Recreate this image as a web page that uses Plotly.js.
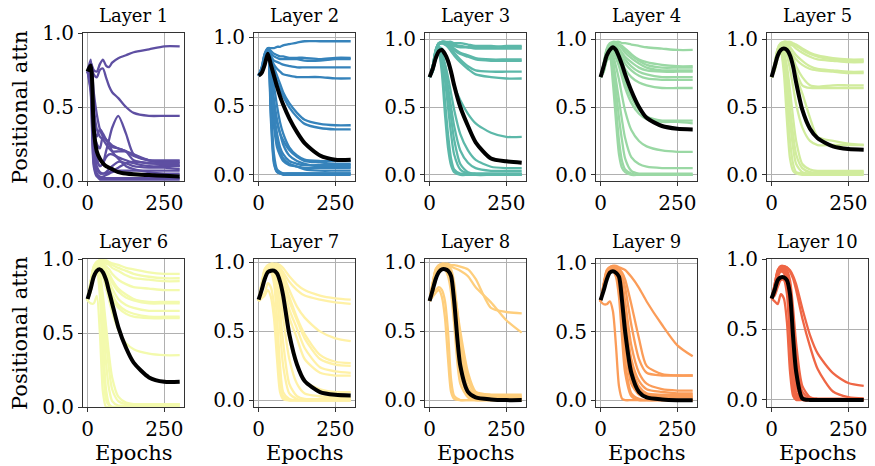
<!DOCTYPE html>
<html>
<head>
<meta charset="utf-8">
<script src="https://cdn.plot.ly/plotly-3.0.1.min.js"></script>
<style>html,body{margin:0;padding:0;background:#fff;}#chart{width:875px;height:466px;}</style>
</head>
<body>
<div id="chart"></div>
<script>
// Epochs at which head curves are sampled
const epochs = [0,10,20,30,40,50,60,70,80,100,125,150,200,250,300];
const layerNames = ['Layer 1','Layer 2','Layer 3','Layer 4','Layer 5','Layer 6','Layer 7','Layer 8','Layer 9','Layer 10'];
const layerColors = ['#5e4fa2','#3683bb','#5cb8a9','#9ad8a4','#d1ec9d','#f3faad','#fff1a6','#fece7c','#fb9c58','#ef6645'];
const xTickVals = [0,250];
const yTickVals = [0,0.5,1];

const layer1Heads = [
 [0.74,0.80,0.75,0.74,0.79,0.82,0.78,0.77,0.80,0.83,0.85,0.87,0.89,0.91,0.91],
 [0.74,0.80,0.72,0.70,0.75,0.76,0.70,0.64,0.60,0.56,0.50,0.46,0.44,0.44,0.44],
 [0.74,0.78,0.40,0.15,0.10,0.12,0.20,0.28,0.36,0.44,0.32,0.18,0.14,0.13,0.13],
 [0.74,0.76,0.50,0.35,0.30,0.28,0.25,0.22,0.20,0.20,0.20,0.18,0.14,0.12,0.11],
 [0.74,0.82,0.60,0.45,0.35,0.30,0.28,0.26,0.24,0.22,0.20,0.17,0.14,0.14,0.14],
 [0.74,0.70,0.30,0.15,0.10,0.12,0.16,0.18,0.18,0.16,0.14,0.12,0.10,0.10,0.10],
 [0.74,0.75,0.25,0.10,0.06,0.05,0.06,0.08,0.10,0.13,0.12,0.10,0.09,0.09,0.08],
 [0.74,0.65,0.15,0.05,0.03,0.03,0.04,0.05,0.06,0.07,0.07,0.07,0.07,0.07,0.07],
 [0.74,0.60,0.10,0.03,0.02,0.02,0.02,0.02,0.02,0.02,0.02,0.02,0.02,0.02,0.02],
 [0.74,0.68,0.20,0.08,0.05,0.05,0.05,0.06,0.07,0.09,0.12,0.13,0.12,0.11,0.10],
 [0.74,0.70,0.35,0.25,0.22,0.30,0.28,0.25,0.20,0.15,0.10,0.08,0.06,0.05,0.05],
 [0.74,0.72,0.40,0.30,0.35,0.32,0.28,0.25,0.23,0.22,0.20,0.14,0.12,0.12,0.12],
 [0.74,0.62,0.12,0.04,0.01,0.01,0.01,0.01,0.01,0.01,0.01,0.01,0.01,0.01,0.01]
];
const layer2Heads = [
 [0.72,0.78,0.88,0.92,0.92,0.92,0.93,0.93,0.94,0.95,0.96,0.97,0.97,0.97,0.97],
 [0.72,0.78,0.88,0.92,0.90,0.88,0.87,0.86,0.86,0.85,0.85,0.85,0.84,0.85,0.85],
 [0.72,0.77,0.87,0.91,0.88,0.86,0.85,0.84,0.84,0.84,0.84,0.83,0.83,0.84,0.84],
 [0.72,0.77,0.86,0.90,0.86,0.83,0.82,0.81,0.80,0.79,0.78,0.78,0.78,0.78,0.78],
 [0.72,0.76,0.86,0.90,0.85,0.80,0.77,0.75,0.73,0.72,0.71,0.71,0.71,0.70,0.70],
 [0.72,0.76,0.85,0.90,0.85,0.78,0.72,0.66,0.60,0.52,0.45,0.40,0.37,0.36,0.36],
 [0.72,0.76,0.85,0.89,0.83,0.75,0.68,0.62,0.57,0.49,0.42,0.37,0.34,0.33,0.33],
 [0.72,0.75,0.84,0.88,0.70,0.50,0.38,0.30,0.25,0.18,0.13,0.10,0.09,0.08,0.08],
 [0.72,0.75,0.84,0.88,0.60,0.35,0.20,0.14,0.10,0.07,0.06,0.05,0.05,0.05,0.05],
 [0.72,0.74,0.83,0.87,0.50,0.15,0.04,0.02,0.01,0.01,0.01,0.01,0.01,0.01,0.01],
 [0.72,0.74,0.83,0.87,0.45,0.10,0.02,0.01,0.01,0.01,0.01,0.01,0.01,0.01,0.01],
 [0.72,0.75,0.84,0.88,0.75,0.55,0.40,0.30,0.22,0.14,0.10,0.08,0.06,0.06,0.06],
 [0.72,0.74,0.84,0.87,0.65,0.40,0.25,0.17,0.12,0.08,0.06,0.04,0.03,0.03,0.03],
 [0.72,0.74,0.83,0.86,0.70,0.45,0.30,0.20,0.15,0.10,0.08,0.07,0.07,0.07,0.07],
 [0.72,0.75,0.85,0.89,0.80,0.65,0.50,0.38,0.30,0.20,0.14,0.11,0.10,0.10,0.10],
 [0.72,0.74,0.82,0.86,0.40,0.08,0.02,0.01,0.00,0.00,0.00,0.00,0.00,0.00,0.00]
];
const layer3Heads = [
 [0.72,0.80,0.92,0.97,0.98,0.98,0.98,0.98,0.97,0.97,0.96,0.95,0.95,0.94,0.94],
 [0.72,0.80,0.92,0.97,0.98,0.98,0.97,0.97,0.96,0.95,0.94,0.93,0.93,0.93,0.93],
 [0.72,0.80,0.92,0.97,0.98,0.98,0.97,0.96,0.95,0.94,0.94,0.94,0.94,0.95,0.95],
 [0.72,0.80,0.91,0.96,0.97,0.97,0.96,0.95,0.93,0.90,0.88,0.86,0.85,0.85,0.85],
 [0.72,0.80,0.91,0.96,0.97,0.97,0.96,0.94,0.92,0.89,0.87,0.85,0.84,0.84,0.84],
 [0.72,0.79,0.90,0.96,0.97,0.96,0.95,0.93,0.90,0.85,0.80,0.77,0.76,0.76,0.76],
 [0.72,0.79,0.90,0.96,0.97,0.96,0.94,0.91,0.88,0.83,0.78,0.74,0.72,0.71,0.71],
 [0.72,0.78,0.88,0.94,0.93,0.88,0.82,0.74,0.66,0.55,0.45,0.38,0.31,0.28,0.28],
 [0.72,0.77,0.87,0.93,0.90,0.82,0.72,0.60,0.48,0.30,0.18,0.11,0.06,0.05,0.05],
 [0.72,0.77,0.86,0.92,0.88,0.78,0.65,0.50,0.36,0.18,0.09,0.05,0.03,0.03,0.03],
 [0.72,0.76,0.86,0.90,0.80,0.55,0.30,0.12,0.04,0.01,0.01,0.01,0.01,0.01,0.01],
 [0.72,0.76,0.85,0.90,0.75,0.45,0.20,0.07,0.02,0.00,0.00,0.00,0.00,0.00,0.00],
 [0.72,0.76,0.86,0.91,0.85,0.70,0.50,0.30,0.15,0.04,0.01,0.00,0.00,0.00,0.00],
 [0.72,0.77,0.87,0.92,0.87,0.75,0.60,0.42,0.26,0.08,0.02,0.01,0.01,0.01,0.01]
];
const layer4Heads = [
 [0.72,0.82,0.93,0.97,0.98,0.98,0.98,0.97,0.97,0.96,0.95,0.94,0.93,0.92,0.92],
 [0.72,0.82,0.92,0.96,0.97,0.97,0.96,0.95,0.93,0.89,0.85,0.83,0.81,0.80,0.80],
 [0.72,0.81,0.92,0.96,0.97,0.97,0.96,0.94,0.92,0.88,0.84,0.81,0.79,0.79,0.79],
 [0.72,0.81,0.91,0.96,0.97,0.96,0.95,0.93,0.90,0.86,0.82,0.79,0.77,0.77,0.77],
 [0.72,0.81,0.91,0.95,0.96,0.95,0.93,0.90,0.87,0.83,0.79,0.77,0.76,0.76,0.76],
 [0.72,0.80,0.90,0.95,0.96,0.95,0.92,0.89,0.85,0.80,0.76,0.74,0.72,0.72,0.72],
 [0.72,0.80,0.90,0.95,0.95,0.93,0.90,0.86,0.82,0.77,0.73,0.71,0.70,0.70,0.70],
 [0.72,0.80,0.90,0.94,0.94,0.92,0.88,0.83,0.78,0.72,0.68,0.66,0.64,0.64,0.64],
 [0.72,0.79,0.88,0.93,0.92,0.88,0.82,0.75,0.68,0.57,0.48,0.43,0.40,0.40,0.40],
 [0.72,0.79,0.88,0.92,0.91,0.86,0.80,0.72,0.64,0.53,0.45,0.41,0.39,0.39,0.38],
 [0.72,0.78,0.87,0.91,0.88,0.80,0.70,0.58,0.47,0.33,0.25,0.21,0.18,0.17,0.17],
 [0.72,0.77,0.86,0.90,0.84,0.70,0.55,0.40,0.27,0.13,0.08,0.06,0.05,0.05,0.05],
 [0.72,0.76,0.85,0.88,0.75,0.50,0.25,0.10,0.04,0.01,0.00,0.00,0.00,0.00,0.00],
 [0.72,0.76,0.84,0.86,0.68,0.40,0.15,0.05,0.02,0.00,0.00,0.00,0.00,0.00,0.00],
 [0.72,0.77,0.86,0.90,0.82,0.62,0.42,0.25,0.12,0.03,0.01,0.01,0.01,0.01,0.01]
];
const layer5Heads = [
 [0.72,0.82,0.93,0.97,0.98,0.98,0.98,0.97,0.96,0.93,0.90,0.88,0.86,0.85,0.85],
 [0.72,0.82,0.93,0.97,0.98,0.98,0.97,0.96,0.95,0.92,0.89,0.87,0.85,0.84,0.84],
 [0.72,0.82,0.92,0.96,0.97,0.97,0.96,0.95,0.93,0.90,0.87,0.85,0.84,0.83,0.83],
 [0.72,0.81,0.92,0.96,0.97,0.96,0.94,0.91,0.88,0.84,0.80,0.78,0.77,0.76,0.76],
 [0.72,0.81,0.92,0.96,0.96,0.95,0.92,0.88,0.85,0.81,0.78,0.77,0.76,0.75,0.75],
 [0.72,0.81,0.91,0.95,0.96,0.94,0.90,0.86,0.80,0.72,0.66,0.65,0.66,0.66,0.66],
 [0.72,0.80,0.91,0.95,0.95,0.93,0.88,0.82,0.76,0.66,0.64,0.64,0.64,0.64,0.64],
 [0.72,0.80,0.90,0.95,0.95,0.92,0.87,0.80,0.72,0.60,0.42,0.28,0.25,0.23,0.22],
 [0.72,0.79,0.89,0.94,0.93,0.88,0.78,0.65,0.52,0.35,0.25,0.22,0.22,0.22,0.22],
 [0.72,0.79,0.88,0.93,0.90,0.80,0.62,0.42,0.25,0.08,0.04,0.03,0.03,0.03,0.03],
 [0.72,0.78,0.87,0.92,0.87,0.72,0.50,0.30,0.15,0.05,0.02,0.02,0.02,0.02,0.02],
 [0.72,0.77,0.86,0.90,0.80,0.55,0.25,0.08,0.02,0.01,0.01,0.01,0.01,0.01,0.01],
 [0.72,0.77,0.86,0.90,0.75,0.40,0.12,0.03,0.01,0.00,0.00,0.00,0.00,0.00,0.00],
 [0.72,0.78,0.88,0.92,0.85,0.65,0.40,0.20,0.08,0.02,0.01,0.01,0.01,0.01,0.01]
];
const layer6Heads = [
 [0.72,0.85,0.95,0.98,0.99,0.99,0.99,0.98,0.97,0.96,0.94,0.93,0.91,0.90,0.90],
 [0.72,0.85,0.95,0.98,0.99,0.99,0.98,0.97,0.96,0.94,0.92,0.90,0.88,0.87,0.87],
 [0.72,0.84,0.94,0.98,0.99,0.98,0.97,0.96,0.94,0.92,0.89,0.87,0.86,0.85,0.85],
 [0.72,0.84,0.94,0.97,0.98,0.97,0.95,0.93,0.90,0.86,0.83,0.81,0.80,0.79,0.79],
 [0.72,0.83,0.93,0.97,0.98,0.96,0.93,0.90,0.86,0.80,0.76,0.73,0.71,0.71,0.71],
 [0.72,0.83,0.93,0.97,0.97,0.95,0.92,0.88,0.84,0.78,0.74,0.72,0.70,0.70,0.70],
 [0.72,0.82,0.92,0.96,0.97,0.94,0.90,0.85,0.80,0.73,0.69,0.67,0.65,0.65,0.65],
 [0.72,0.82,0.92,0.96,0.96,0.93,0.88,0.82,0.76,0.69,0.65,0.63,0.61,0.61,0.61],
 [0.72,0.82,0.92,0.96,0.96,0.92,0.87,0.80,0.74,0.67,0.63,0.61,0.60,0.60,0.60],
 [0.72,0.81,0.91,0.95,0.94,0.88,0.80,0.72,0.64,0.52,0.43,0.39,0.36,0.35,0.35],
 [0.72,0.80,0.90,0.94,0.90,0.75,0.55,0.35,0.20,0.07,0.03,0.02,0.02,0.02,0.02],
 [0.72,0.78,0.88,0.92,0.80,0.45,0.12,0.02,0.00,0.00,0.00,0.00,0.00,0.00,0.00],
 [0.72,0.78,0.88,0.92,0.75,0.30,0.05,0.01,0.00,0.00,0.00,0.00,0.00,0.00,0.00],
 [0.72,0.79,0.89,0.93,0.85,0.60,0.30,0.12,0.04,0.01,0.01,0.01,0.01,0.01,0.01],
 [0.72,0.79,0.89,0.93,0.88,0.70,0.45,0.25,0.12,0.04,0.02,0.02,0.02,0.02,0.02],
 [0.72,0.70,0.70,0.75,0.50,0.10,0.00,0.00,0.00,0.00,0.00,0.00,0.00,0.00,0.00]
];
const layer7Heads = [
 [0.72,0.85,0.95,0.98,0.99,0.99,0.99,0.98,0.96,0.90,0.84,0.80,0.76,0.74,0.73],
 [0.72,0.85,0.95,0.98,0.99,0.99,0.98,0.96,0.93,0.86,0.80,0.76,0.73,0.71,0.70],
 [0.72,0.84,0.94,0.97,0.98,0.98,0.97,0.95,0.91,0.80,0.68,0.60,0.50,0.45,0.43],
 [0.72,0.84,0.94,0.97,0.98,0.98,0.97,0.94,0.88,0.75,0.60,0.48,0.33,0.28,0.27],
 [0.72,0.84,0.93,0.97,0.98,0.97,0.96,0.93,0.86,0.72,0.58,0.45,0.30,0.26,0.25],
 [0.72,0.83,0.93,0.97,0.98,0.97,0.95,0.90,0.82,0.66,0.52,0.38,0.24,0.21,0.20],
 [0.72,0.83,0.93,0.96,0.97,0.96,0.94,0.88,0.78,0.60,0.45,0.30,0.20,0.18,0.18],
 [0.72,0.82,0.92,0.96,0.97,0.96,0.93,0.85,0.72,0.45,0.25,0.14,0.08,0.06,0.06],
 [0.72,0.82,0.92,0.96,0.97,0.95,0.90,0.78,0.60,0.30,0.12,0.05,0.03,0.02,0.02],
 [0.72,0.80,0.90,0.95,0.96,0.93,0.85,0.65,0.42,0.12,0.03,0.01,0.01,0.01,0.01],
 [0.72,0.80,0.90,0.94,0.93,0.85,0.60,0.25,0.06,0.01,0.00,0.00,0.00,0.00,0.00],
 [0.72,0.74,0.76,0.80,0.75,0.60,0.30,0.06,0.01,0.00,0.00,0.00,0.00,0.00,0.00],
 [0.72,0.76,0.78,0.85,0.82,0.70,0.45,0.15,0.03,0.00,0.00,0.00,0.00,0.00,0.00],
 [0.72,0.81,0.91,0.95,0.95,0.90,0.75,0.50,0.25,0.05,0.01,0.00,0.00,0.00,0.00]
];
const layer8Heads = [
 [0.72,0.85,0.95,0.98,0.99,0.99,0.99,0.98,0.98,0.97,0.95,0.88,0.67,0.64,0.63],
 [0.72,0.85,0.95,0.98,0.99,0.99,0.98,0.97,0.96,0.94,0.90,0.82,0.71,0.58,0.49],
 [0.72,0.84,0.94,0.97,0.98,0.98,0.97,0.95,0.85,0.45,0.15,0.06,0.04,0.04,0.04],
 [0.72,0.84,0.94,0.97,0.98,0.98,0.96,0.92,0.78,0.35,0.10,0.04,0.03,0.03,0.03],
 [0.72,0.83,0.93,0.97,0.98,0.97,0.95,0.88,0.70,0.25,0.06,0.02,0.01,0.01,0.01],
 [0.72,0.83,0.93,0.96,0.97,0.96,0.93,0.85,0.62,0.18,0.04,0.01,0.01,0.01,0.01],
 [0.72,0.83,0.93,0.96,0.97,0.97,0.95,0.90,0.80,0.50,0.20,0.06,0.02,0.02,0.02],
 [0.72,0.78,0.80,0.82,0.80,0.72,0.50,0.15,0.03,0.00,0.00,0.00,0.00,0.00,0.00],
 [0.72,0.75,0.78,0.80,0.75,0.60,0.30,0.06,0.01,0.00,0.00,0.00,0.00,0.00,0.00],
 [0.72,0.82,0.92,0.96,0.96,0.95,0.90,0.78,0.55,0.12,0.02,0.00,0.00,0.00,0.00],
 [0.72,0.82,0.92,0.96,0.97,0.96,0.94,0.88,0.75,0.40,0.15,0.05,0.02,0.02,0.02]
];
const layer9Heads = [
 [0.72,0.85,0.95,0.97,0.98,0.98,0.97,0.96,0.95,0.90,0.82,0.72,0.55,0.40,0.32],
 [0.72,0.84,0.94,0.97,0.98,0.97,0.96,0.93,0.88,0.70,0.45,0.25,0.19,0.18,0.18],
 [0.72,0.84,0.94,0.97,0.97,0.96,0.94,0.90,0.82,0.55,0.30,0.20,0.18,0.18,0.18],
 [0.72,0.84,0.93,0.96,0.97,0.96,0.93,0.86,0.72,0.40,0.20,0.12,0.08,0.07,0.07],
 [0.72,0.83,0.93,0.96,0.97,0.95,0.90,0.80,0.62,0.30,0.14,0.08,0.06,0.05,0.05],
 [0.72,0.83,0.92,0.96,0.96,0.94,0.88,0.72,0.50,0.20,0.08,0.04,0.03,0.03,0.03],
 [0.72,0.82,0.92,0.95,0.96,0.93,0.85,0.65,0.40,0.12,0.04,0.02,0.02,0.02,0.02],
 [0.72,0.82,0.91,0.95,0.95,0.92,0.80,0.55,0.28,0.05,0.01,0.00,0.00,0.00,0.00],
 [0.72,0.81,0.91,0.94,0.94,0.90,0.75,0.45,0.20,0.03,0.00,0.00,0.00,0.00,0.00],
 [0.72,0.70,0.70,0.72,0.65,0.40,0.10,0.01,0.00,0.00,0.00,0.00,0.00,0.00,0.00],
 [0.72,0.82,0.92,0.95,0.95,0.93,0.87,0.70,0.45,0.15,0.05,0.03,0.02,0.02,0.02],
 [0.72,0.83,0.93,0.96,0.96,0.94,0.90,0.78,0.58,0.25,0.10,0.05,0.04,0.04,0.04]
];
const layer10Heads = [
 [0.72,0.82,0.92,0.95,0.95,0.94,0.92,0.88,0.82,0.65,0.46,0.33,0.19,0.12,0.10],
 [0.72,0.82,0.92,0.95,0.95,0.94,0.91,0.86,0.78,0.58,0.38,0.22,0.06,0.02,0.01],
 [0.72,0.81,0.91,0.94,0.94,0.92,0.85,0.65,0.40,0.10,0.02,0.01,0.01,0.01,0.01],
 [0.72,0.80,0.90,0.94,0.94,0.90,0.75,0.45,0.20,0.03,0.00,0.00,0.00,0.00,0.00],
 [0.72,0.80,0.90,0.93,0.93,0.88,0.70,0.35,0.10,0.01,0.00,0.00,0.00,0.00,0.00],
 [0.72,0.79,0.89,0.92,0.92,0.85,0.60,0.20,0.04,0.00,0.00,0.00,0.00,0.00,0.00],
 [0.72,0.79,0.88,0.92,0.91,0.82,0.50,0.12,0.02,0.00,0.00,0.00,0.00,0.00,0.00],
 [0.72,0.70,0.68,0.75,0.72,0.55,0.20,0.03,0.00,0.00,0.00,0.00,0.00,0.00,0.00],
 [0.72,0.74,0.80,0.85,0.85,0.75,0.40,0.08,0.01,0.00,0.00,0.00,0.00,0.00,0.00],
 [0.72,0.78,0.87,0.91,0.90,0.80,0.55,0.20,0.05,0.01,0.00,0.00,0.00,0.00,0.00],
 [0.72,0.80,0.90,0.94,0.94,0.91,0.80,0.55,0.30,0.06,0.01,0.00,0.00,0.00,0.00]
];
const layerMeans = [
 [0.74,0.78,0.35,0.20,0.15,0.12,0.10,0.09,0.08,0.06,0.05,0.045,0.04,0.035,0.03],
 [0.72,0.74,0.80,0.88,0.80,0.72,0.64,0.57,0.51,0.41,0.31,0.23,0.14,0.11,0.11],
 [0.72,0.78,0.86,0.91,0.92,0.89,0.84,0.76,0.66,0.50,0.36,0.24,0.12,0.10,0.09],
 [0.72,0.80,0.88,0.92,0.94,0.92,0.87,0.81,0.74,0.62,0.50,0.42,0.36,0.34,0.335],
 [0.72,0.80,0.88,0.92,0.93,0.92,0.88,0.80,0.68,0.48,0.34,0.27,0.21,0.19,0.185],
 [0.73,0.80,0.88,0.92,0.93,0.91,0.86,0.78,0.70,0.54,0.40,0.30,0.20,0.17,0.17],
 [0.73,0.80,0.88,0.93,0.94,0.94,0.92,0.86,0.76,0.48,0.26,0.14,0.06,0.04,0.035],
 [0.72,0.80,0.88,0.93,0.95,0.95,0.94,0.90,0.72,0.25,0.06,0.02,0.005,0.0,0.0],
 [0.73,0.80,0.88,0.93,0.94,0.93,0.90,0.72,0.50,0.20,0.06,0.02,0.005,0.0,0.0],
 [0.72,0.78,0.85,0.87,0.87,0.85,0.75,0.45,0.20,0.01,0.0,0.0,0.0,0.0,0.0]
];
const allHeads = [layer1Heads,layer2Heads,layer3Heads,layer4Heads,layer5Heads,layer6Heads,layer7Heads,layer8Heads,layer9Heads,layer10Heads];
const yRanges = [[0,1],[-0.045,1.03],[-0.045,1.045],[-0.045,1.045],[-0.045,1.045],[0,1],[-0.048,1.025],[-0.05,1.025],[-0.05,1.03],[-0.05,1.0]];

const W = 875, H = 466;
const colLeft = [83,254,425,596,767];
const colW = 101;
const rowTop = [33,259];
const rowH = 148;
const FONT = 'DejaVu Serif, serif';

const traces = [];
const layout = {
  width: W, height: H,
  margin: {l:0,r:0,t:0,b:0},
  paper_bgcolor: '#fff', plot_bgcolor: '#fff',
  showlegend: false,
  annotations: []
};
for (let i = 0; i < 10; i++) {
  const n = i + 1;
  const xa = n === 1 ? 'x' : 'x' + n;
  const ya = n === 1 ? 'y' : 'y' + n;
  const col = i % 5, row = Math.floor(i / 5);
  allHeads[i].forEach(h => {
    traces.push({x: epochs, y: h, xaxis: xa, yaxis: ya, type: 'scatter', mode: 'lines',
      line: {color: layerColors[i], width: 2.3, shape: 'spline', smoothing: 0.7}, hoverinfo: 'skip'});
  });
  traces.push({x: epochs, y: layerMeans[i], xaxis: xa, yaxis: ya, type: 'scatter', mode: 'lines',
    line: {color: '#000', width: 4, shape: 'spline', smoothing: 0.7}, hoverinfo: 'skip'});
  const x0 = colLeft[col] / W, x1 = (colLeft[col] + colW) / W;
  const y1 = 1 - rowTop[row] / H, y0 = 1 - (rowTop[row] + rowH) / H;
  const common = {showgrid: true, gridcolor: '#b0b0b0', gridwidth: 1, zeroline: false,
    showline: true, mirror: true, linecolor: '#333', linewidth: 1,
    ticks: 'outside', ticklen: 4, tickwidth: 1, tickcolor: '#333',
    tickfont: {family: FONT, size: 20, color: '#000'}, fixedrange: true};
  layout['xaxis' + (n === 1 ? '' : n)] = Object.assign({}, common, {
    domain: [x0, x1], anchor: ya, range: [-15, 314], tickvals: xTickVals, ticktext: xTickVals.map(String)});
  layout['yaxis' + (n === 1 ? '' : n)] = Object.assign({}, common, {
    domain: [y0, y1], anchor: xa, range: yRanges[i], tickvals: yTickVals, ticktext: yTickVals.map(v => v.toFixed(1))});
  layout.annotations.push({text: layerNames[i], xref: 'paper', yref: 'paper',
    x: (colLeft[col] + colW / 2) / W, y: 1 - (rowTop[row] - 5) / H, xanchor: 'center', yanchor: 'bottom',
    showarrow: false, font: {family: FONT, size: 18, color: '#000'}});
}
// axis labels
[0,1].forEach(r => {
  layout.annotations.push({text: 'Positional attn', xref: 'paper', yref: 'paper',
    x: 20 / W, y: 1 - (rowTop[r] + rowH / 2) / H, xanchor: 'center', yanchor: 'middle', textangle: -90,
    showarrow: false, font: {family: FONT, size: 21, color: '#000'}});
});
for (let c = 0; c < 5; c++) {
  layout.annotations.push({text: 'Epochs', xref: 'paper', yref: 'paper',
    x: (colLeft[c] + colW / 2) / W, y: 1 - 453 / H, xanchor: 'center', yanchor: 'middle',
    showarrow: false, font: {family: FONT, size: 21, color: '#000'}});
}
Plotly.newPlot('chart', traces, layout, {staticPlot: true, displayModeBar: false});
</script>
</body>
</html>
